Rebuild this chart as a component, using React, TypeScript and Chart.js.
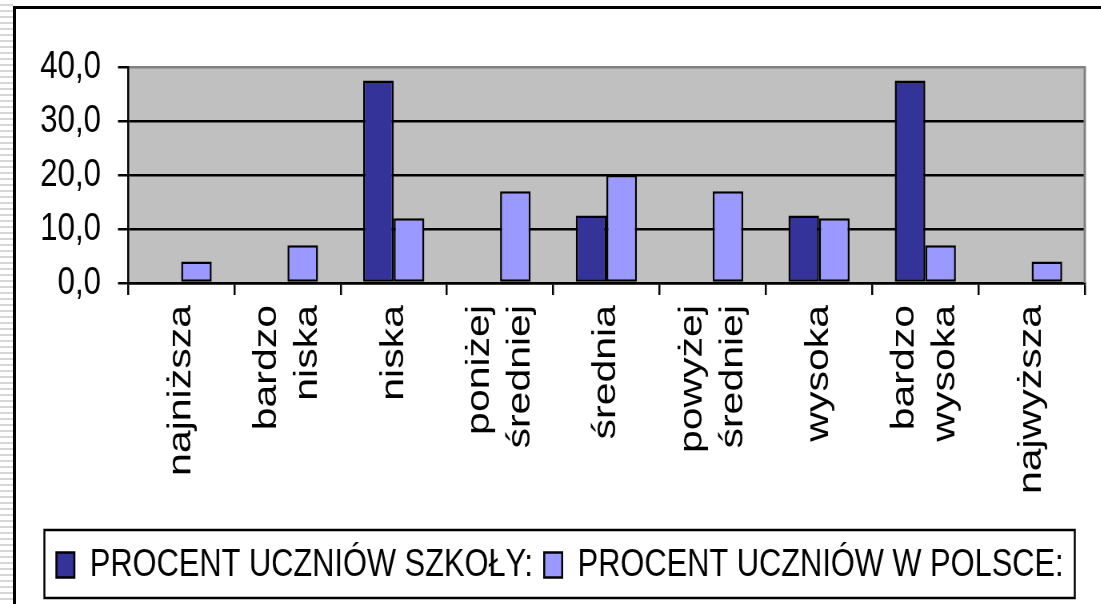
import React, { useEffect, useRef } from "react";
import { Chart, registerables } from "chart.js";

Chart.register(...registerables);

// ---- data ----
const categories: (string | string[])[] = [
  "najniższa",
  ["bardzo", "niska"],
  "niska",
  ["poniżej", "średniej"],
  "średnia",
  ["powyżej", "średniej"],
  "wysoka",
  ["bardzo", "wysoka"],
  "najwyższa",
];
const seriesNames = ["PROCENT UCZNIÓW SZKOŁY:", "PROCENT UCZNIÓW W POLSCE:"];
const schoolPercent = [0, 0, 37.5, 0, 12.5, 0, 12.5, 37.5, 0];
const polandPercent = [4, 7, 12, 17, 20, 17, 12, 7, 4];
const yTickValues = [0, 10, 20, 30, 40];
const yTickLabels = ["0,0", "10,0", "20,0", "30,0", "40,0"];

// ---- layout / style ----
const W = 1101;
const H = 604;
const SX = 0.8; // the original picture is squeezed horizontally
const CW = Math.round(W / SX);
const FONT = '"Liberation Sans", Arial, Helvetica, sans-serif';

const plotBackground = {
  id: "plotBackground",
  beforeDraw(chart: any) {
    const { ctx, chartArea: a } = chart;
    ctx.save();
    ctx.fillStyle = "#C0C0C0";
    ctx.fillRect(a.left, a.top, a.right - a.left, a.bottom - a.top);
    ctx.restore();
  },
  afterDatasetsDraw(chart: any) {
    const { ctx, chartArea: a } = chart;
    ctx.save();
    ctx.strokeStyle = "#808080";
    ctx.lineWidth = 3;
    ctx.beginPath();
    ctx.moveTo(a.right, a.top - 1);
    ctx.lineTo(a.right, a.bottom);
    ctx.stroke();
    ctx.restore();
  },
};

const categoryLabels = {
  id: "categoryLabels",
  afterDraw(chart: any) {
    const scale = chart.scales.x;
    const { ctx } = chart;
    const lh = 51;
    const top = scale.top + 22;
    ctx.save();
    ctx.font = `41px ${FONT}`;
    ctx.fillStyle = "#000";
    ctx.textAlign = "right";
    ctx.textBaseline = "middle";
    categories.forEach((c, i) => {
      const lines = Array.isArray(c) ? c : [c];
      const px = scale.getPixelForTick(i);
      lines.forEach((line, j) => {
        const cx = px + (j - (lines.length - 1) / 2) * lh;
        ctx.save();
        ctx.translate(cx, top);
        ctx.rotate(-Math.PI / 2);
        ctx.fillText(line, 0, 0);
        ctx.restore();
      });
    });
    ctx.restore();
  },
};

const legendFrame = {
  id: "legendFrame",
  afterDraw(chart: any) {
    const lg = chart.legend;
    const boxes = lg && lg.legendHitBoxes;
    if (!boxes || !boxes.length) return;
    const { ctx } = chart;
    const left = Math.min(...boxes.map((b: any) => b.left)) - 15;
    const right = Math.max(...boxes.map((b: any) => b.left + b.width)) + 14;
    const cy = boxes[0].top + boxes[0].height / 2;
    ctx.save();
    ctx.strokeStyle = "#000";
    ctx.lineWidth = 2.5;
    ctx.strokeRect(left, cy - 35, right - left, 68);
    ctx.restore();
  },
};

export default function App() {
  const ref = useRef<HTMLCanvasElement>(null);

  useEffect(() => {
    if (!ref.current) return;
    Chart.defaults.font.family = FONT;
    const chart = new Chart(ref.current, {
      type: "bar",
      data: {
        labels: categories as any,
        datasets: [
          {
            label: seriesNames[0],
            data: schoolPercent,
            backgroundColor: "#333399",
            borderColor: "#000",
            borderWidth: 2.5,
            borderSkipped: false,
            categoryPercentage: 0.575,
            barPercentage: 1,
          },
          {
            label: seriesNames[1],
            data: polandPercent,
            backgroundColor: "#9999FF",
            borderColor: "#000",
            borderWidth: 2.5,
            borderSkipped: false,
            categoryPercentage: 0.575,
            barPercentage: 1,
          },
        ],
      },
      options: {
        responsive: false,
        animation: false,
        events: [],
        layout: { padding: { top: 67, right: 20, bottom: 9.75, left: 44 } },
        plugins: {
          legend: {
            position: "bottom",
            labels: {
              boxWidth: 22.5,
              boxHeight: 25,
              padding: 14,
              color: "#000",
              font: { size: 38.5, family: FONT },
            },
          },
          tooltip: { enabled: false },
        },
        scales: {
          x: {
            offset: true,
            grid: {
              offset: true,
              drawOnChartArea: false,
              drawTicks: true,
              tickLength: 12,
              color: "#000",
              lineWidth: 2.5,
            },
            border: { display: true, color: "#000", width: 2.5 },
            ticks: { display: false },
            afterFit: (s: any) => {
              s.height = 248.75;
            },
          },
          y: {
            min: yTickValues[0],
            max: yTickValues[yTickValues.length - 1],
            ticks: {
              stepSize: 10,
              autoSkip: false,
              color: "#000",
              padding: 21.25,
              font: { size: 39, family: FONT },
              callback: (v: any) => {
                const i = yTickValues.indexOf(Number(v));
                return i >= 0 ? yTickLabels[i] : "";
              },
            },
            grid: {
              color: (c: any) => (c.tick && c.tick.value === 40 ? "#808080" : "#000"),
              tickColor: "#000",
              lineWidth: 2.5,
              tickLength: 12.5,
            },
            border: { display: true, color: "#000", width: 2.5 },
            afterFit: (s: any) => {
              s.width = 116;
            },
          },
        },
      },
      plugins: [plotBackground, categoryLabels, legendFrame],
    } as any);
    return () => chart.destroy();
  }, []);

  return (
    <div
      style={{
        position: "fixed",
        left: 0,
        top: 0,
        width: W,
        height: H,
        overflow: "hidden",
        background: "#fff",
      }}
    >
      <div
        style={{
          position: "absolute",
          left: 0,
          top: 0,
          width: 13,
          height: H,
          background:
            "repeating-linear-gradient(to bottom, #ffffff 0px, #ffffff 4px, #d6d6d6 4px, #d6d6d6 6px)",
        }}
      />
      <div
        style={{
          position: "absolute",
          left: 13,
          top: 6,
          width: W + 100,
          height: H + 100,
          borderTop: "3px solid #000",
          borderLeft: "3px solid #000",
        }}
      />
      <div
        style={{
          position: "absolute",
          left: 0,
          top: 0,
          width: CW,
          height: H,
          transform: `scaleX(${SX})`,
          transformOrigin: "0 0",
        }}
      >
        <canvas ref={ref} width={CW} height={H} style={{ display: "block", width: CW, height: H }} />
      </div>
    </div>
  );
}
